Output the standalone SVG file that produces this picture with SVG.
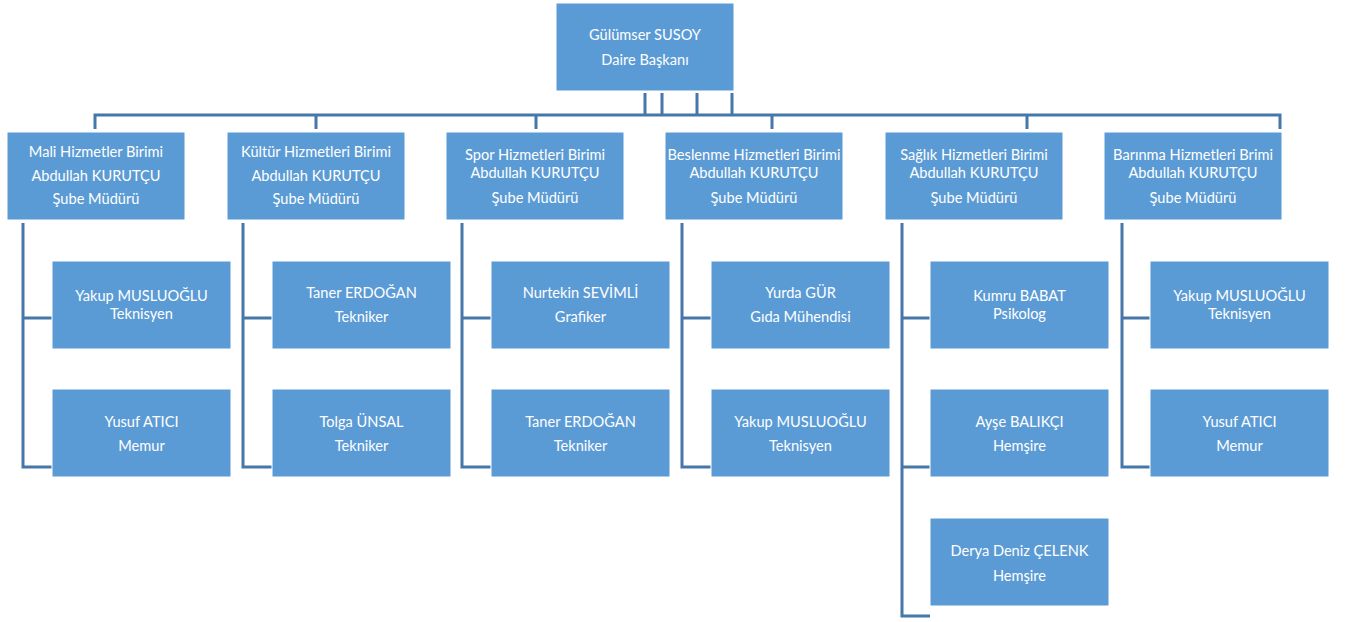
<svg xmlns="http://www.w3.org/2000/svg" width="1349" height="622" viewBox="0 0 1349 622">
<style>
.box{fill:#5b9bd5;stroke:#ffffff;stroke-width:1}
.t{font-family:Lato,"Open Sans","Liberation Sans",sans-serif;font-size:14.6px;fill:#ffffff;text-anchor:middle}
.c{fill:none;stroke:#4677a9;stroke-width:3}
</style>
<rect width="1349" height="622" fill="#ffffff"/>
<g id="connectors">
<path class="c" d="M645 93V115M662 93V115M697 93V115M732 93V115"/>
<path class="c" d="M95 129V115H1280V129M316 115V129M536 115V129M772 115V129M1027 115V129"/>
<path class="c" d="M23 223V467H52M23 318H52"/>
<path class="c" d="M243 223V467H272M243 318H272"/>
<path class="c" d="M462 223V467H491M462 318H491"/>
<path class="c" d="M682 223V467H711M682 318H711"/>
<path class="c" d="M902 223V616H930M902 318H930M902 467H930"/>
<path class="c" d="M1122 223V467H1150M1122 318H1150"/>
</g>
<g id="n-root"><rect class="box" x="556" y="3" width="178" height="88"/><text class="t" x="645" y="40">Gülümser SUSOY</text><text class="t" x="645" y="65">Daire Başkanı</text></g>
<g id="n-mali"><rect class="box" x="7" y="132" width="178" height="88"/><text class="t" x="96" y="157">Mali Hizmetler Birimi</text><text class="t" x="96" y="181">Abdullah KURUTÇU</text><text class="t" x="96" y="204">Şube Müdürü</text></g>
<g id="n-kultur"><rect class="box" x="227" y="132" width="178" height="88"/><text class="t" x="316" y="157">Kültür Hizmetleri Birimi</text><text class="t" x="316" y="181">Abdullah KURUTÇU</text><text class="t" x="316" y="204">Şube Müdürü</text></g>
<g id="n-spor"><rect class="box" x="446" y="132" width="178" height="88"/><text class="t" x="535" y="160">Spor Hizmetleri Birimi</text><text class="t" x="535" y="178">Abdullah KURUTÇU</text><text class="t" x="535" y="203">Şube Müdürü</text></g>
<g id="n-beslenme"><rect class="box" x="665" y="132" width="178" height="88"/><text class="t" x="754" y="160">Beslenme Hizmetleri Birimi</text><text class="t" x="754" y="178">Abdullah KURUTÇU</text><text class="t" x="754" y="203">Şube Müdürü</text></g>
<g id="n-saglik"><rect class="box" x="885" y="132" width="178" height="88"/><text class="t" x="974" y="160">Sağlık Hizmetleri Birimi</text><text class="t" x="974" y="178">Abdullah KURUTÇU</text><text class="t" x="974" y="203">Şube Müdürü</text></g>
<g id="n-barinma"><rect class="box" x="1104" y="132" width="178" height="88"/><text class="t" x="1193" y="160">Barınma Hizmetleri Brimi</text><text class="t" x="1193" y="178">Abdullah KURUTÇU</text><text class="t" x="1193" y="203">Şube Müdürü</text></g>
<g id="n-mali-1"><rect class="box" x="52" y="261" width="179" height="88"/><text class="t" x="141.5" y="301">Yakup MUSLUOĞLU</text><text class="t" x="141.5" y="319">Teknisyen</text></g>
<g id="n-mali-2"><rect class="box" x="52" y="389" width="179" height="88"/><text class="t" x="141.5" y="427">Yusuf ATICI</text><text class="t" x="141.5" y="451">Memur</text></g>
<g id="n-kultur-1"><rect class="box" x="272" y="261" width="179" height="88"/><text class="t" x="361.5" y="298">Taner ERDOĞAN</text><text class="t" x="361.5" y="322">Tekniker</text></g>
<g id="n-kultur-2"><rect class="box" x="272" y="389" width="179" height="88"/><text class="t" x="361.5" y="427">Tolga ÜNSAL</text><text class="t" x="361.5" y="451">Tekniker</text></g>
<g id="n-spor-1"><rect class="box" x="491" y="261" width="179" height="88"/><text class="t" x="580.5" y="298">Nurtekin SEVİMLİ</text><text class="t" x="580.5" y="322">Grafiker</text></g>
<g id="n-spor-2"><rect class="box" x="491" y="389" width="179" height="88"/><text class="t" x="580.5" y="427">Taner ERDOĞAN</text><text class="t" x="580.5" y="451">Tekniker</text></g>
<g id="n-beslenme-1"><rect class="box" x="711" y="261" width="179" height="88"/><text class="t" x="800.5" y="298">Yurda GÜR</text><text class="t" x="800.5" y="322">Gıda Mühendisi</text></g>
<g id="n-beslenme-2"><rect class="box" x="711" y="389" width="179" height="88"/><text class="t" x="800.5" y="427">Yakup MUSLUOĞLU</text><text class="t" x="800.5" y="451">Teknisyen</text></g>
<g id="n-saglik-1"><rect class="box" x="930" y="261" width="179" height="88"/><text class="t" x="1019.5" y="301">Kumru BABAT</text><text class="t" x="1019.5" y="319">Psikolog</text></g>
<g id="n-saglik-2"><rect class="box" x="930" y="389" width="179" height="88"/><text class="t" x="1019.5" y="427">Ayşe BALIKÇI</text><text class="t" x="1019.5" y="451">Hemşire</text></g>
<g id="n-saglik-3"><rect class="box" x="930" y="518" width="179" height="88"/><text class="t" x="1019.5" y="556">Derya Deniz ÇELENK</text><text class="t" x="1019.5" y="581">Hemşire</text></g>
<g id="n-barinma-1"><rect class="box" x="1150" y="261" width="179" height="88"/><text class="t" x="1239.5" y="301">Yakup MUSLUOĞLU</text><text class="t" x="1239.5" y="319">Teknisyen</text></g>
<g id="n-barinma-2"><rect class="box" x="1150" y="389" width="179" height="88"/><text class="t" x="1239.5" y="427">Yusuf ATICI</text><text class="t" x="1239.5" y="451">Memur</text></g>
</svg>
